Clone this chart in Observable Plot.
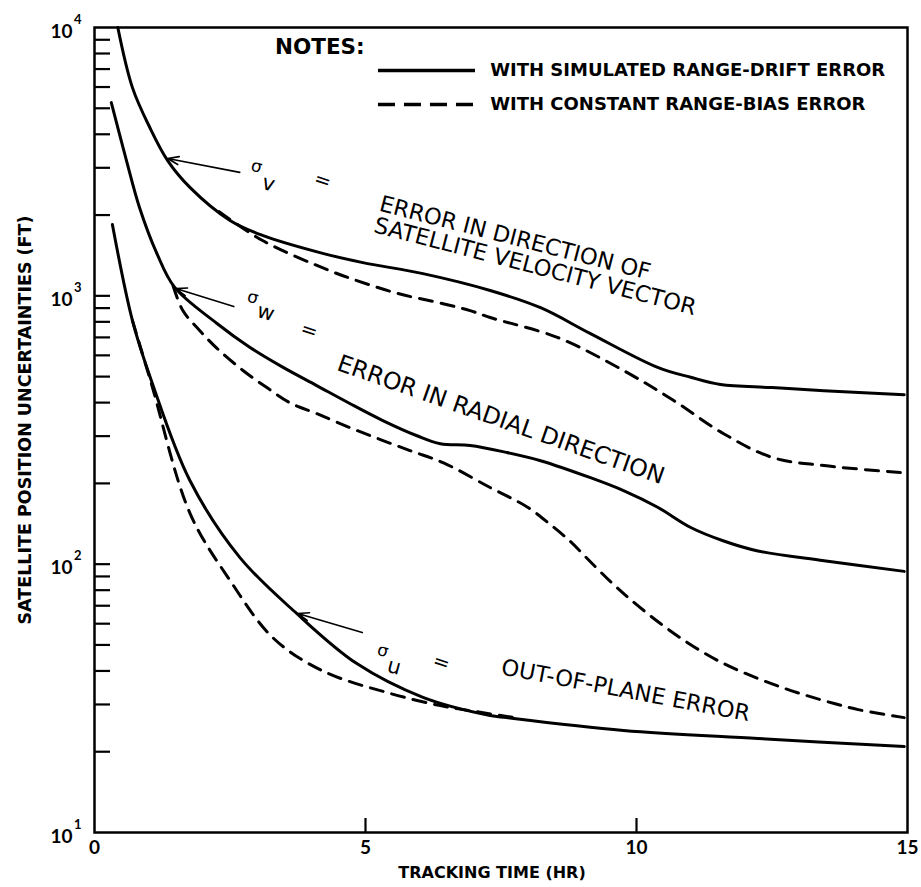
<!DOCTYPE html>
<html><head><meta charset="utf-8">
<script src="https://cdn.jsdelivr.net/npm/d3@7"></script>
<script src="https://cdn.jsdelivr.net/npm/@observablehq/plot@0.6"></script>
<style>body{margin:0;background:#fff;}</style>
</head><body><div id="chart"></div>
<script>
// ---- data (tracking time in hours, uncertainty in feet) ----
const vSolidT = [0.43, 0.7, 1.02, 1.35, 1.76, 2.5, 3.1, 4.21, 4.95, 6.06, 7.3, 8.23, 9.15, 10.39, 11.0, 11.55, 12.5, 13.46, 14.94];
const vSolidV = [10000, 5970, 4240, 3190, 2535, 1910, 1680, 1440, 1330, 1210, 1047, 903, 723, 541, 497, 467, 455, 443, 428];
const vDashT  = [2.3, 3.1, 4.34, 4.84, 5.6, 6.43, 6.93, 7.3, 8.54, 9.76, 10.68, 11.6, 12.5, 13.46, 14.94];
const vDashV  = [2060, 1607, 1241, 1140, 1020, 935, 881, 830, 700, 527, 408, 307, 250, 233, 219];

const wSolidT = [0.31, 0.59, 0.83, 1.15, 1.48, 2.26, 2.87, 3.48, 4.10, 4.71, 5.32, 5.95, 6.38, 6.93, 7.6, 8.23, 9.15, 9.76, 10.39, 11.0, 11.61, 12.24, 13.46, 14.94];
const wSolidV = [5250, 3190, 2135, 1440, 1075, 789, 642, 541, 463, 397, 343, 301, 281, 277, 261, 243, 210, 188, 163, 137, 122, 112, 103, 94];
const wDashT  = [1.45, 1.63, 1.94, 2.26, 2.74, 3.18, 3.6, 4.10, 4.84, 5.82, 6.43, 7.30, 7.99, 8.41, 8.78, 9.09, 9.52, 9.89, 10.44, 11.0, 11.61, 12.24, 12.85, 13.46, 14.09, 14.94];
const wDashV  = [1090, 881, 743, 637, 527, 455, 400, 364, 315, 265, 239, 193, 163, 140.5, 121.5, 105, 86.1, 73.8, 60.1, 50.1, 42.6, 37.5, 33.8, 31.0, 28.7, 26.8];

const uSolidT = [0.33, 0.7, 1.05, 1.76, 2.68, 3.73, 4.84, 6.06, 7.3, 7.6, 9.76, 12.24, 14.94];
const uSolidV = [1845, 809, 483, 205, 106, 65.5, 42.6, 31.9, 27.3, 26.8, 24, 22.4, 20.9];
const uDashT  = [0.7, 1.05, 1.76, 2.5, 3.3, 4.21, 5.45, 6.38, 7.0, 7.8];
const uDashV  = [809, 470, 155, 87, 53, 40, 33, 29.7, 28.3, 26.7];

const xTicks = [0, 5, 10, 15];
const xInnerTicks = [5, 10];
const yMajor = [10, 100, 1000, 10000];
const yMinor = [2,3,4,5,6,7,8,9].flatMap(m => [10, 100, 1000].map(d => m * d)).concat([100, 1000]);

const legendLabels = ["WITH SIMULATED RANGE-DRIFT ERROR", "WITH CONSTANT RANGE-BIAS ERROR"];
const legendT1 = [5.23, 5.23], legendT2 = [7.02, 7.02], legendTextT = [7.3, 7.3], legendV = [6910, 5165];
const notesText = "NOTES:", notesT = 3.33, notesV = 8420;

const curveLabels = ["ERROR IN DIRECTION OF", "SATELLITE VELOCITY VECTOR", "ERROR IN RADIAL DIRECTION", "OUT-OF-PLANE ERROR"];
const curveLabelT = [7.76, 8.13, 7.50, 9.80];
const curveLabelV = [1640, 1285, 345, 33.8];
const curveLabelAngle = [14.4, 14.5, 19.4, 10.7];
const curveLabelSize = [22.5, 22.5, 23.5, 22.5];

const sigmaSub = ["v", "w", "u"];
const sigmaT = [2.99, 2.92, 5.32], sigmaV = [3034, 986, 47.6];
const subT = [3.21, 3.16, 5.53], subV = [2620, 867, 41.5];
const eqT = [4.21, 3.96, 6.40], eqV = [2690, 743, 43.0];
const arrowT1 = [2.68, 2.57, 4.94], arrowV1 = [2884, 912, 55.6];
const arrowT2 = [1.35, 1.50, 3.75], arrowV2 = [3250, 1064, 65.5];

const toRows = (T, V) => T.map((t, i) => ({t, v: V[i]}));
const solid = [toRows(vSolidT, vSolidV), toRows(wSolidT, wSolidV), toRows(uSolidT, uSolidV)];
const dashed = [toRows(vDashT, vDashV), toRows(wDashT, wDashV), toRows(uDashT, uDashV)];

const W = 921, H = 887, mL = 94, mR = 14, mT = 27, mB = 55;
const innerW = W - mL - mR, innerH = H - mT - mB;
const DV = "'DejaVu Sans', sans-serif";
const LA = "Lato, 'DejaVu Sans', sans-serif";

const marks = [];
solid.forEach(rows => marks.push(Plot.line(rows, {x: "t", y: "v", curve: "catmull-rom", stroke: "#000", strokeWidth: 3})));
dashed.forEach(rows => marks.push(Plot.line(rows, {x: "t", y: "v", curve: "catmull-rom", stroke: "#000", strokeWidth: 3, strokeDasharray: "13,9"})));

// inward ticks
marks.push(Plot.tickY(yMinor, {y: d => d, stroke: "#000", strokeWidth: 2.2, insetRight: innerW - 16}));
marks.push(Plot.tickX(xInnerTicks, {x: d => d, stroke: "#000", strokeWidth: 2.2, insetTop: innerH - 14}));

// axes labels
marks.push(Plot.axisY({ticks: yMajor, tickSize: 0, tickPadding: 22, tickFormat: () => "10", fontSize: 19, fontWeight: "bold", dy: 4, fill: "#000", fontFamily: LA}));
marks.push(Plot.axisY({ticks: yMajor, tickSize: 0, tickPadding: 13, tickFormat: d => String(Math.round(Math.log10(d))), fontSize: 13, fontWeight: "bold", dy: -8, fill: "#000", fontFamily: LA}));
marks.push(Plot.axisX({ticks: xTicks, tickSize: 0, tickPadding: 8, tickFormat: d => String(d), fontSize: 19, fontWeight: "bold", fill: "#000", fontFamily: LA}));
marks.push(Plot.text(["SATELLITE POSITION UNCERTAINTIES (FT)"], {frameAnchor: "left", textAnchor: "middle", lineAnchor: "middle", rotate: -90, dx: -69, dy: -10, fontSize: 17.5, fontWeight: "bold", fill: "#000", fontFamily: DV}));
marks.push(Plot.text(["TRACKING TIME (HR)"], {frameAnchor: "bottom", textAnchor: "middle", lineAnchor: "middle", dx: -9, dy: 40, fontSize: 16, fontWeight: "bold", fill: "#000", fontFamily: DV}));

// legend
marks.push(Plot.text([notesText], {x: () => notesT, y: () => notesV, textAnchor: "start", fontSize: 21.5, fontWeight: "bold", fill: "#000", fontFamily: DV}));
const legendRows = legendLabels.map((s, i) => ({s, t1: legendT1[i], t2: legendT2[i], tt: legendTextT[i], v: legendV[i]}));
marks.push(Plot.link([legendRows[0]], {x1: "t1", x2: "t2", y1: "v", y2: "v", stroke: "#000", strokeWidth: 3.5}));
marks.push(Plot.link([legendRows[1]], {x1: "t1", x2: "t2", y1: "v", y2: "v", stroke: "#000", strokeWidth: 3.5, strokeDasharray: "17,9"}));
marks.push(Plot.text(legendRows, {x: "tt", y: "v", text: "s", textAnchor: "start", fontSize: 18, fontWeight: "bold", fill: "#000", fontFamily: DV}));

// curve annotations
const labelRows = curveLabels.map((s, i) => ({s, t: curveLabelT[i], v: curveLabelV[i], a: curveLabelAngle[i], fs: curveLabelSize[i]}));
labelRows.forEach(r => marks.push(Plot.text([r], {x: "t", y: "v", text: "s", rotate: r.a, fontSize: r.fs, fill: "#000", fontFamily: DV})));

const sigRows = sigmaSub.map((s, i) => ({s, st: sigmaT[i], sv: sigmaV[i], bt: subT[i], bv: subV[i], et: eqT[i], ev: eqV[i],
  x1: arrowT1[i], y1: arrowV1[i], x2: arrowT2[i], y2: arrowV2[i]}));
marks.push(Plot.text(sigRows, {x: "st", y: "sv", text: () => "σ", fontSize: 17, rotate: 15, fill: "#000", fontFamily: DV}));
marks.push(Plot.text(sigRows, {x: "bt", y: "bv", text: "s", fontSize: 21, rotate: 15, fill: "#000", fontFamily: DV}));
marks.push(Plot.text(sigRows, {x: "et", y: "ev", text: () => "=", fontSize: 20, rotate: 18, fill: "#000", fontFamily: DV}));
marks.push(Plot.arrow(sigRows, {x1: "x1", y1: "y1", x2: "x2", y2: "y2", stroke: "#000", strokeWidth: 1.6, headLength: 11, headAngle: 40}));

marks.push(Plot.frame({stroke: "#000", strokeWidth: 2.5}));

const chart = Plot.plot({
  width: W, height: H,
  marginLeft: mL, marginRight: mR, marginTop: mT, marginBottom: mB,
  style: {fontFamily: DV, background: "#fff", color: "#000"},
  x: {domain: [0, 15], axis: null},
  y: {type: "log", domain: [10, 10000], axis: null},
  marks
});
document.getElementById("chart").appendChild(chart);
</script>
</body></html>
